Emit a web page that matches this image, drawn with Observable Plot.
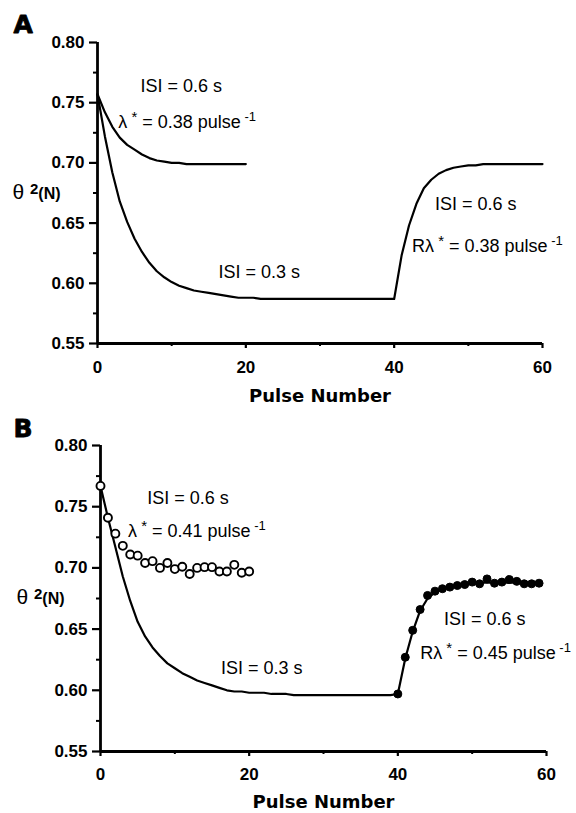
<!DOCTYPE html>
<html><head><meta charset="utf-8">
<script src="https://cdn.jsdelivr.net/npm/d3@7"></script>
<script src="https://cdn.jsdelivr.net/npm/@observablehq/plot@0.6"></script>
<style>body{margin:0;background:#fff;} svg{display:block;}</style>
</head><body><div id="chart"></div>
<script>
// ---- axes ----
const xDomain = [0, 60];
const yDomain = [0.55, 0.80];
const xTicks = [0, 20, 40, 60];
const xMinorTicks = [10, 30, 50];
const yTicks = [0.55, 0.60, 0.65, 0.70, 0.75, 0.80];
const yMinorTicks = [0.575, 0.625, 0.675, 0.725, 0.775];
const xLabel = "Pulse Number";
const yLabel = "θ {2|15|bold|-5}{(N)|16|bold|0}";

// ---- panel A ----
const pulseA06 = [0,1,2,3,4,5,6,7,8,9,10,11,12,13,14,15,16,17,18,19,20];
const valueA06 = [0.757,0.742,0.730,0.721,0.715,0.711,0.707,0.704,0.702,0.701,0.700,0.700,0.699,0.699,0.699,0.699,0.699,0.699,0.699,0.699,0.699];
const pulseA03 = [0,1,2,3,4,5,6,7,8,9,10,11,12,13,14,15,16,17,18,19,20,21,22,23,24,25,26,27,28,29,30,31,32,33,34,35,36,37,38,39,40,41,42,43,44,45,46,47,48,49,50,51,52,53,54,55,56,57,58,59,60];
const valueA03 = [0.757,0.722,0.692,0.668,0.651,0.637,0.626,0.617,0.610,0.605,0.601,0.598,0.596,0.594,0.593,0.592,0.591,0.590,0.589,0.588,0.588,0.588,0.587,0.587,0.587,0.587,0.587,0.587,0.587,0.587,0.587,0.587,0.587,0.587,0.587,0.587,0.587,0.587,0.587,0.587,0.587,
  0.623,0.648,0.666,0.679,0.686,0.691,0.694,0.696,0.697,0.698,0.698,0.699,0.699,0.699,0.699,0.699,0.699,0.699,0.699,0.699];
const annAText = ["ISI = 0.6 s", "λ{ *|15|normal|-6} = 0.38 pulse{ -1|13|normal|-7}", "ISI = 0.3 s", "ISI = 0.6 s", "Rλ{ *|15|normal|-6} = 0.38 pulse{ -1|13|normal|-7}"];
const annAX = [5.8, 2.8, 16.3, 45.5, 42.4];
const annAY = [0.7585, 0.7287, 0.6043, 0.6607, 0.6259];

// ---- panel B ----
const pulseB03 = [0,1,2,3,4,5,6,7,8,9,10,11,12,13,14,15,16,17,18,19,20,21,22,23,24,25,26,27,28,29,30,31,32,33,34,35,36,37,38,39,40];
const valueB03 = [0.767,0.741,0.717,0.693,0.673,0.656,0.644,0.635,0.628,0.622,0.618,0.614,0.611,0.608,0.606,0.604,0.602,0.600,0.599,0.599,0.598,0.598,0.598,0.597,0.597,0.597,0.596,0.596,0.596,0.596,0.596,0.596,0.596,0.596,0.596,0.596,0.596,0.596,0.596,0.596,0.597];
const pulseBFit = [40,41,42,43,44,45,46,47,48,49,50,51,52,53,54,55,56,57,58,59];
const valueBFit = [0.597,0.626,0.648,0.665,0.675,0.680,0.683,0.685,0.686,0.687,0.687,0.688,0.688,0.688,0.688,0.688,0.688,0.688,0.688,0.688];
const pulseBOpen = [0,1,2,3,4,5,6,7,8,9,10,11,12,13,14,15,16,17,18,19,20];
const valueBOpen = [0.767,0.741,0.728,0.718,0.711,0.710,0.704,0.7055,0.700,0.704,0.699,0.701,0.695,0.700,0.7006,0.7006,0.697,0.697,0.7025,0.696,0.697];
const pulseBFilled = [40,41,42,43,44,45,46,47,48,49,50,51,52,53,54,55,56,57,58,59];
const valueBFilled = [0.597,0.627,0.649,0.666,0.6775,0.681,0.683,0.6843,0.6856,0.6864,0.6884,0.687,0.691,0.6875,0.6884,0.6905,0.689,0.687,0.687,0.6875];
const annBText = ["ISI = 0.6 s", "λ{ *|15|normal|-6} = 0.41 pulse{ -1|13|normal|-7}", "ISI = 0.3 s", "ISI = 0.6 s", "Rλ{ *|15|normal|-6} = 0.45 pulse{ -1|13|normal|-7}"];
const annBX = [6.3, 3.7, 16.2, 46.2, 43.0];
const annBY = [0.7524, 0.7251, 0.6135, 0.653, 0.6257];

const FONT = "'Liberation Sans', Arial, Helvetica, sans-serif";
const HEAVY = "'DejaVu Sans', 'Liberation Sans', sans-serif";

function frameMarks(letter, letterDx, letterDy, ylabDx, ylabDy, xlabDy, xTickPad) {
  return [
    Plot.axisY({ticks: yTicks, tickSize: 8, tickPadding: 5, tickFormat: d3.format(".2f"), label: null, strokeWidth: 2.2}),
    Plot.axisY({ticks: yMinorTicks, tickSize: 4, tickFormat: () => "", label: null, strokeWidth: 2}),
    Plot.axisX({ticks: xTicks, tickSize: 5, tickPadding: xTickPad, tickFormat: d3.format("d"), label: null, strokeWidth: 2.2}),
    Plot.axisX({ticks: xMinorTicks, tickSize: 3, tickFormat: () => "", label: null, strokeWidth: 2}),
    Plot.ruleX([xDomain[0]], {y1: yDomain[0], y2: yDomain[1], strokeWidth: 2.8}),
    Plot.ruleY([yDomain[0]], {x1: xDomain[0], x2: xDomain[1], strokeWidth: 2.8}),
    Plot.text([xLabel], {text: d => d, frameAnchor: "bottom", lineAnchor: "bottom", dy: xlabDy, fontFamily: HEAVY, fontWeight: "bold", fontSize: 18}),
    Plot.text([yLabel], {text: d => d, frameAnchor: "left", textAnchor: "start", lineAnchor: "bottom", dx: ylabDx, dy: ylabDy, fontFamily: FONT, fontWeight: "normal", fontSize: 21}),
    Plot.text([letter], {text: d => d, frameAnchor: "top-left", textAnchor: "start", lineAnchor: "bottom", dx: letterDx, dy: letterDy, fontFamily: HEAVY, fontWeight: "bold", fontSize: 25, fill: "black", stroke: "black", strokeWidth: 0.8})
  ];
}

const plotA = Plot.plot({
  width: 576, height: 410,
  marginLeft: 97, marginRight: 34, marginTop: 42, marginBottom: 67,
  x: {domain: xDomain}, y: {domain: yDomain},
  style: {fontFamily: FONT, fontSize: "17px", fontWeight: "bold", color: "black", background: "white", overflow: "visible"},
  marks: [
    ...frameMarks("A", -84, -10, -85, 5.5, 58, 12),
    Plot.line(valueA06, {x: pulseA06, y: valueA06, stroke: "black", strokeWidth: 2.2}),
    Plot.line(valueA03, {x: pulseA03, y: valueA03, stroke: "black", strokeWidth: 2.2}),
    Plot.text(annAText, {x: annAX, y: annAY, text: annAText, textAnchor: "start", lineAnchor: "bottom", fontFamily: FONT, fontWeight: "normal", fontSize: 18})
  ]
});

const plotB = Plot.plot({
  width: 576, height: 403,
  marginLeft: 100, marginRight: 30, marginTop: 35, marginBottom: 62,
  x: {domain: xDomain}, y: {domain: yDomain},
  style: {fontFamily: FONT, fontSize: "17px", fontWeight: "bold", color: "black", background: "white", overflow: "visible"},
  marks: [
    ...frameMarks("B", -87, -9, -84, 5, 56, 11),
    Plot.line(valueB03, {x: pulseB03, y: valueB03, stroke: "black", strokeWidth: 2.2}),
    Plot.line(valueBFit, {x: pulseBFit, y: valueBFit, stroke: "black", strokeWidth: 2.2}),
    Plot.dot(valueBOpen, {x: pulseBOpen, y: valueBOpen, r: 4, fill: "white", stroke: "black", strokeWidth: 1.9}),
    Plot.dot(valueBFilled, {x: pulseBFilled, y: valueBFilled, r: 4, fill: "black", stroke: "black", strokeWidth: 1}),
    Plot.text(annBText, {x: annBX, y: annBY, text: annBText, textAnchor: "start", lineAnchor: "bottom", fontFamily: FONT, fontWeight: "normal", fontSize: 18})
  ]
});

// turn {text|size|weight|shift} markup into tspans
function richText(svg) {
  const ns = "http://www.w3.org/2000/svg";
  svg.querySelectorAll("text").forEach(el => {
    const s = el.textContent;
    if (!s.includes("{")) return;
    el.textContent = "";
    el.setAttribute("xml:space", "preserve");
    el.style.whiteSpace = "pre";
    const re = /\{([^}|]*)\|(\d+)\|(\w+)\|(-?\d+)\}|([^{]+)/g;
    let shift = 0, m;
    while ((m = re.exec(s))) {
      const ts = document.createElementNS(ns, "tspan");
      let target = 0;
      if (m[1] !== undefined) {
        ts.setAttribute("font-size", m[2] + "px");
        ts.setAttribute("font-weight", m[3]);
        target = +m[4];
        ts.textContent = m[1];
      } else {
        ts.textContent = m[5];
      }
      if (target !== shift) ts.setAttribute("dy", target - shift);
      shift = target;
      el.appendChild(ts);
    }
  });
}
richText(plotA); richText(plotB);
const chart = document.getElementById("chart");
chart.appendChild(plotA);
chart.appendChild(plotB);
</script>
</body></html>
